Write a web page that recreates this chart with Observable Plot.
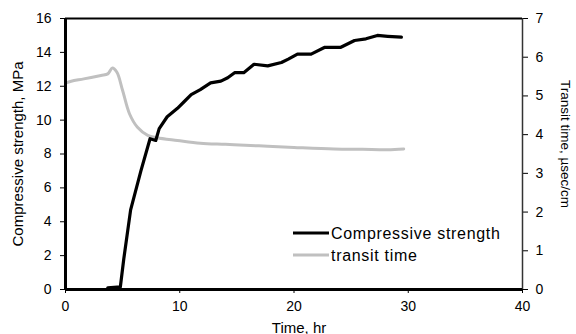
<!DOCTYPE html>
<html>
<head>
<meta charset="utf-8">
<script src="https://cdn.jsdelivr.net/npm/d3@7"></script>
<script src="https://cdn.jsdelivr.net/npm/@observablehq/plot@0.6"></script>
<style>
  html, body { margin: 0; padding: 0; background: #fff; }
  svg { font-family: "Liberation Sans", Arial, sans-serif; }
</style>
</head>
<body>
<div id="chart"></div>
<script>
// Compressive strength (MPa) vs time (hr)
const strengthTime = [3.7, 4.8, 5.1, 5.7, 6.6, 7.4, 7.9, 8.2, 8.9, 9.8, 10.4, 11.0, 11.8, 12.7, 13.6, 14.2, 14.8, 15.6, 16.5, 17.7, 18.9, 19.5, 20.3, 21.5, 22.7, 24.1, 25.3, 26.3, 27.3, 28.2, 29.4];
const strengthValues = [0.1, 0.15, 1.8, 4.7, 7.0, 8.9, 8.8, 9.5, 10.2, 10.7, 11.1, 11.5, 11.8, 12.2, 12.3, 12.5, 12.8, 12.8, 13.3, 13.2, 13.4, 13.6, 13.9, 13.9, 14.3, 14.3, 14.7, 14.8, 15.0, 14.95, 14.9];
// Transit time (µsec/cm) vs time (hr)
const transitTime = [0, 0.5, 1.6, 3.1, 3.7, 4.1, 4.5, 5.0, 5.6, 6.3, 7.2, 8.0, 9.8, 11.8, 14, 16.2, 17.7, 20, 23.5, 26, 28.2, 29.6];
const transitValues = [5.33, 5.38, 5.44, 5.53, 5.57, 5.72, 5.61, 5.14, 4.54, 4.19, 3.98, 3.92, 3.85, 3.78, 3.75, 3.72, 3.70, 3.67, 3.63, 3.62, 3.61, 3.63];

const xTicks = [0, 10, 20, 30, 40];
const yLeftTicks = [0, 2, 4, 6, 8, 10, 12, 14, 16];
const yRightTicks = [0, 1, 2, 3, 4, 5, 6, 7];
const seriesNames = ["Compressive strength", "transit time"];
const seriesColors = ["#000000", "#c0c0c0"];

const leftMax = 16, rightMax = 7;
const toLeft = v => v * leftMax / rightMax;

const strength = strengthTime.map((t, i) => ({t, v: strengthValues[i]}));
const transit = transitTime.map((t, i) => ({t, v: transitValues[i]}));

const plot = Plot.plot({
  width: 576,
  height: 334,
  marginLeft: 65,
  marginRight: 54,
  marginTop: 18,
  marginBottom: 45,
  style: {fontFamily: "Liberation Sans, Arial, sans-serif", fontSize: "14px", color: "#000", background: "#fff"},
  x: {domain: [0, 40]},
  y: {domain: [0, leftMax]},
  marks: [
    Plot.axisX({ticks: xTicks, tickSize: 4, tickPadding: 8, label: null, fontSize: 14, stroke: "#000"}),
    Plot.axisY({ticks: yLeftTicks, tickSize: 5, tickPadding: 9, label: null, fontSize: 14}),
    Plot.axisY({anchor: "right", ticks: yRightTicks.map(toLeft), tickFormat: d => Math.round(d * rightMax / leftMax), tickSize: 5, tickPadding: 8, label: null, fontSize: 14}),
    Plot.ruleX([40], {stroke: "#333", strokeWidth: 1.5}),
    Plot.ruleY([leftMax], {stroke: "#000", strokeWidth: 2}),
    Plot.line(transit, {x: "t", y: d => toLeft(d.v), stroke: seriesColors[1], strokeWidth: 3, curve: "catmull-rom"}),
    Plot.line(strength, {x: "t", y: "v", stroke: seriesColors[0], strokeWidth: 3.2}),
    Plot.ruleX([0], {stroke: "#000", strokeWidth: 3}),
    Plot.ruleY([0], {stroke: "#000", strokeWidth: 3}),
    Plot.text(["Compressive strength, MPa"], {frameAnchor: "left", textAnchor: "middle", dx: -47, rotate: -90, fontSize: 15}),
    Plot.text(["Transit time, µsec/cm"], {frameAnchor: "right", textAnchor: "middle", dx: 43, dy: -10, rotate: 90, fontSize: 13.5}),
    Plot.text(["Time, hr"], {frameAnchor: "bottom", dx: 5, dy: 43, fontSize: 15, letterSpacing: "0.5px"})
  ]
});

// Legend overlay
const svg = d3.select(plot);
const lg = svg.append("g").attr("transform", "translate(293,233)").attr("text-anchor", "start");
seriesNames.forEach((name, i) => {
  const row = lg.append("g").attr("transform", `translate(0,${i * 22})`);
  row.append("line").attr("x1", 0).attr("x2", 36).attr("y1", 0).attr("y2", 0)
    .attr("stroke", seriesColors[i]).attr("stroke-width", 3);
  row.append("text").attr("x", 38).attr("y", 0).attr("dy", "0.35em")
    .attr("text-anchor", "start").attr("letter-spacing", "0.7px")
    .attr("font-size", 16).attr("fill", "#000").text(name);
});

document.getElementById("chart").appendChild(plot);
</script>
</body>
</html>
